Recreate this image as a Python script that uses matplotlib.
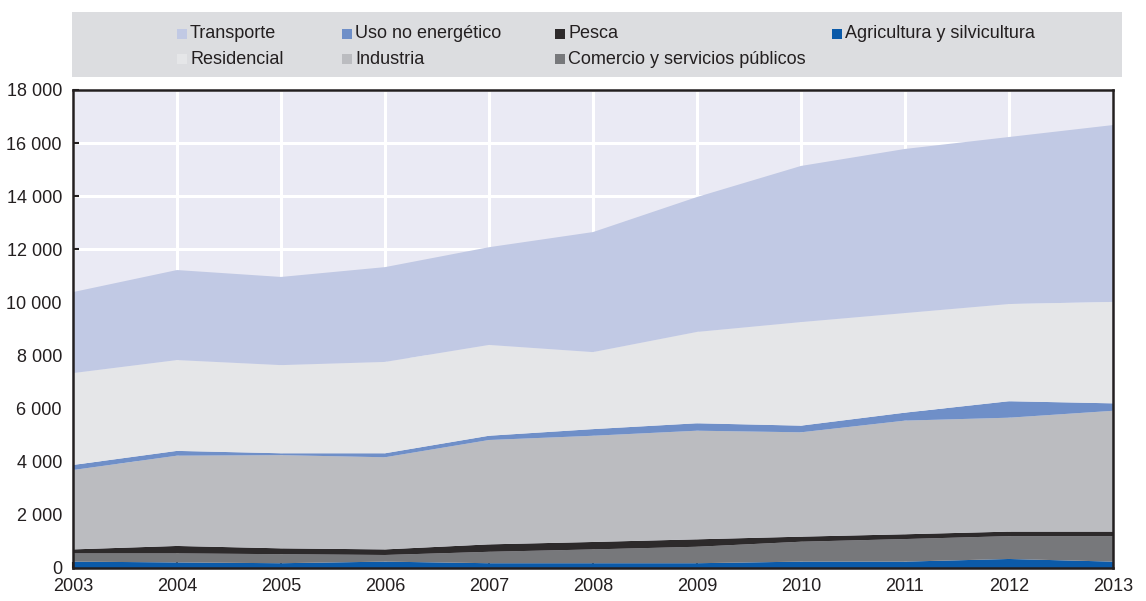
import numpy as np
import matplotlib
import matplotlib.pyplot as plt
from matplotlib.patches import Rectangle

matplotlib.use('Agg')

plt.rcParams['font.family'] = ['Liberation Sans Narrow', 'Liberation Sans', 'DejaVu Sans']

# Years and series (stacked bottom to top)
years = [2003, 2004, 2005, 2006, 2007, 2008, 2009, 2010, 2011, 2012, 2013]
agricultura = [240, 210, 180, 240, 180, 180, 180, 240, 240, 340, 240]
comercio = [310, 340, 340, 250, 430, 520, 620, 750, 850, 860, 960]
pesca = [150, 280, 220, 210, 280, 280, 280, 190, 180, 170, 170]
industria = [2990, 3400, 3510, 3470, 3930, 4000, 4090, 3930, 4280, 4290, 4550]
uso_no_energetico = [190, 180, 70, 150, 160, 250, 280, 250, 300, 620, 280]
residencial = [3460, 3420, 3320, 3440, 3420, 2900, 3440, 3900, 3750, 3660, 3820]
transporte = [3050, 3390, 3320, 3570, 3680, 4520, 5080, 5880, 6180, 6290, 6660]

yticks = [0, 2000, 4000, 6000, 8000, 10000, 12000, 14000, 16000, 18000]

layers = [
    ("Agricultura y silvicultura", agricultura, "#0b5aa9"),
    ("Comercio y servicios públicos", comercio, "#77787b"),
    ("Pesca", pesca, "#2d2a2b"),
    ("Industria", industria, "#bbbcc0"),
    ("Uso no energético", uso_no_energetico, "#6f8fc8"),
    ("Residencial", residencial, "#e5e6e8"),
    ("Transporte", transporte, "#c1c9e4"),
]

W, H = 1146, 601
fig = plt.figure(figsize=(W / 100, H / 100), dpi=100)
ax = fig.add_axes([73 / W, 1 - 568 / H, (1113 - 73) / W, (568 - 90) / H])

ax.set_facecolor("#eaeaf4")
ax.stackplot(years, *[l[1] for l in layers], colors=[l[2] for l in layers],
             linewidth=0, zorder=2)

ax.set_xlim(2003, 2013)
ax.set_ylim(0, 18000)
ax.set_xticks(years)
ax.set_yticks(yticks)
ax.set_yticklabels([f"{v:,}".replace(",", " ") for v in yticks])
ax.grid(True, color="white", linewidth=2.2, zorder=0)
ax.set_axisbelow(True)
ax.tick_params(axis="both", direction="in", length=4, width=1.5,
               color="#231f20", labelsize=13, labelcolor="#231f20")
ax.tick_params(axis="x", pad=7)
ax.tick_params(axis="y", pad=8)
for s in ax.spines.values():
    s.set_color("#231f20")
    s.set_linewidth(1.8)
    s.set_zorder(5)

# legend: gray box with entries laid out in 4 columns, 2 rows
fig.patches.append(Rectangle((72 / W, 1 - 77 / H), (1122 - 72) / W, 65 / H,
                             transform=fig.transFigure, facecolor="#dcdde0",
                             edgecolor="none", zorder=0))

colors = {l[0]: l[2] for l in layers}
legend_cols = [
    ["Transporte", "Residencial"],
    ["Uso no energético", "Industria"],
    ["Pesca", "Comercio y servicios públicos"],
    ["Agricultura y silvicultura"],
]
col_x = [177, 342, 555, 832]
row_y = [34, 59]
for cx, names in zip(col_x, legend_cols):
    for ry, name in zip(row_y, names):
        fig.patches.append(Rectangle((cx / W, 1 - (ry + 5) / H), 10 / W, 10 / H,
                                     transform=fig.transFigure,
                                     facecolor=colors[name], edgecolor="none"))
        fig.text((cx + 13) / W, 1 - ry / H, name, fontsize=13, color="#231f20",
                 va="center", ha="left")

fig.savefig("out.png", dpi=100)
